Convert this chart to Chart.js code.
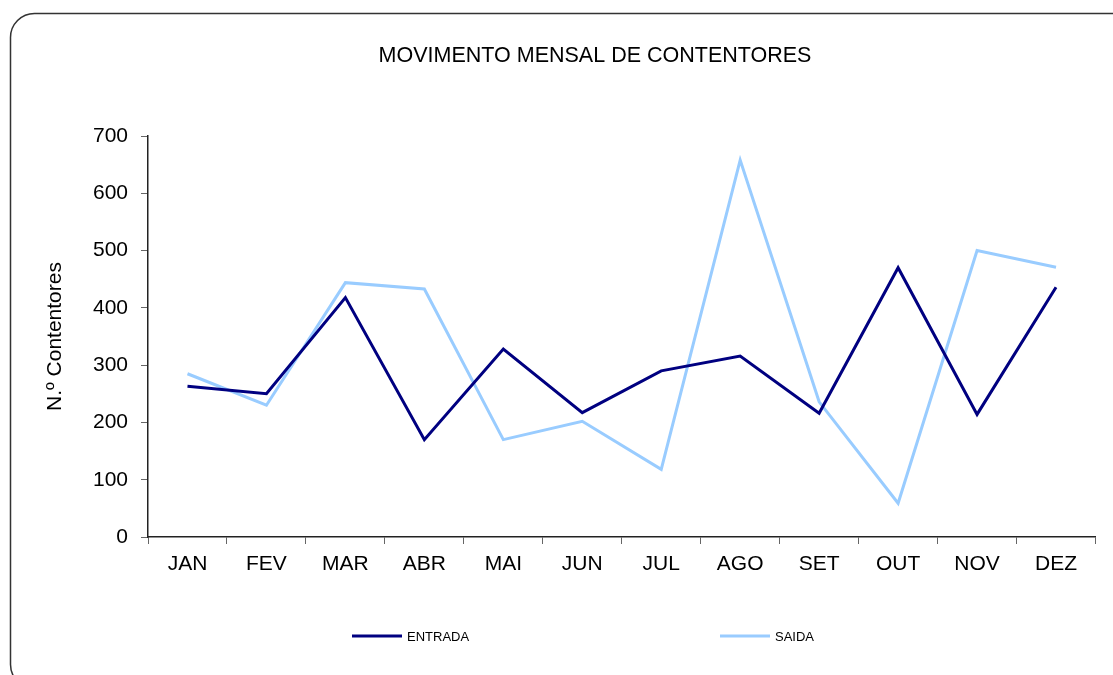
<!DOCTYPE html>
<html>
<head>
<meta charset="utf-8">
<script src="https://cdn.jsdelivr.net/npm/chart.js@4"></script>
<style>
  html, body { margin: 0; padding: 0; background: #fff; }
  #wrap { width: 1113px; height: 675px; position: relative; }
</style>
</head>
<body>
<div id="wrap"><canvas id="movimento_chart"></canvas></div>
<script>
const meses = ['JAN', 'FEV', 'MAR', 'ABR', 'MAI', 'JUN', 'JUL', 'AGO', 'SET', 'OUT', 'NOV', 'DEZ'];
const entrada = [263, 250, 418, 170, 328, 217, 290, 316, 216, 470, 214, 436];
const saida = [285, 230, 444, 433, 170, 202, 118, 658, 236, 59, 500, 471];
const yTicks = [0, 100, 200, 300, 400, 500, 600, 700];

const fonte = 'Liberation Sans, Arial, sans-serif';

// moldura, titulo e legenda desenhados a mao
const extras = {
    id: 'extras',
    beforeDraw(chart) {
        const ctx = chart.ctx;
        ctx.save();
        ctx.strokeStyle = '#333';
        ctx.lineWidth = 1.5;
        ctx.beginPath();
        ctx.roundRect(10.5, 13.5, 1125, 675, 24);
        ctx.stroke();
        ctx.restore();
    },
    afterDraw(chart) {
        const ctx = chart.ctx;
        ctx.save();
        ctx.fillStyle = '#000';
        ctx.font = '21.5px ' + fonte;
        ctx.textAlign = 'center';
        ctx.textBaseline = 'middle';
        ctx.fillText('MOVIMENTO MENSAL DE CONTENTORES', 595, 56);

        const itens = [{x: 352}, {x: 720}];
        chart.data.datasets.forEach((ds, i) => {
            const x = itens[i].x;
            ctx.strokeStyle = ds.borderColor;
            ctx.lineWidth = 3;
            ctx.beginPath();
            ctx.moveTo(x, 636);
            ctx.lineTo(x + 50, 636);
            ctx.stroke();
            ctx.fillStyle = '#000';
            ctx.font = '13px ' + fonte;
            ctx.textAlign = 'left';
            ctx.fillText(ds.label, x + 55, 637);
        });
        ctx.restore();
    }
};

new Chart(
    document.getElementById('movimento_chart'),
    {
        type: 'line',
        data: {
            labels: meses,
            datasets: [
                {
                    label: 'ENTRADA',
                    data: entrada,
                    borderColor: '#000080',
                    borderWidth: 3,
                    pointRadius: 0,
                    tension: 0,
                    fill: false
                },
                {
                    label: 'SAIDA',
                    data: saida,
                    borderColor: '#99ccff',
                    borderWidth: 3,
                    pointRadius: 0,
                    tension: 0,
                    fill: false
                }
            ]
        },
        options: {
            responsive: true,
            maintainAspectRatio: false,
            animation: false,
            layout: { padding: { top: 136, right: 17.5, bottom: 0, left: 0 } },
            plugins: {
                legend: { display: false },
                title: { display: false },
                tooltip: { enabled: false }
            },
            scales: {
                x: {
                    offset: true,
                    afterFit: (s) => { s.height = 138; },
                    grid: {
                        offset: true,
                        drawOnChartArea: false,
                        drawTicks: true,
                        tickLength: 7,
                        color: '#666'
                    },
                    border: { color: '#222', width: 1.5 },
                    ticks: {
                        color: '#000',
                        padding: 8,
                        maxRotation: 0,
                        font: { family: fonte, size: 21 }
                    }
                },
                y: {
                    min: 0,
                    max: 700,
                    afterFit: (s) => { s.width = 148; },
                    afterBuildTicks: (s) => { s.ticks = yTicks.map(v => ({ value: v })); },
                    grid: {
                        drawOnChartArea: false,
                        drawTicks: true,
                        tickLength: 7,
                        color: '#666'
                    },
                    border: { color: '#222', width: 1.5 },
                    ticks: {
                        color: '#000',
                        padding: 13,
                        font: { family: fonte, size: 21 }
                    },
                    title: {
                        display: true,
                        text: 'N.º Contentores',
                        color: '#000',
                        padding: { top: 43, bottom: 0 },
                        font: { family: fonte, size: 21 }
                    }
                }
            }
        },
        plugins: [extras]
    }
);
</script>
</body>
</html>
